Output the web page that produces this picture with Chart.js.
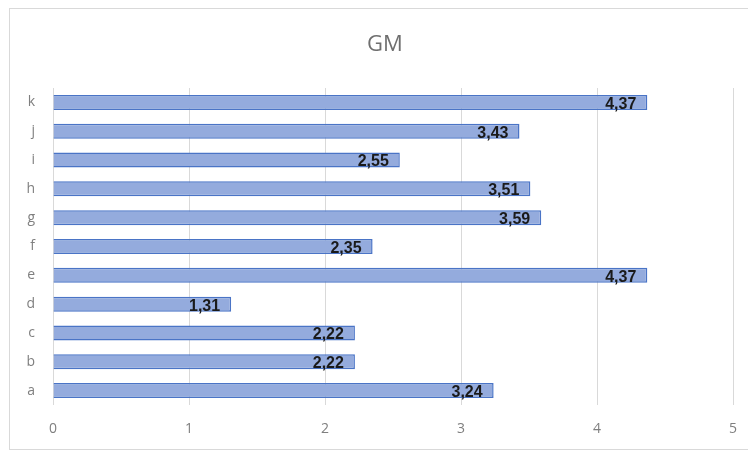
<!DOCTYPE html>
<html>
<head>
<meta charset="utf-8">
<script src="https://cdn.jsdelivr.net/npm/chart.js@4.4.0/dist/chart.umd.min.js"></script>
<style>
  html, body { margin: 0; padding: 0; background: #fff; overflow: hidden; }
  #frame { position: absolute; left: 9px; top: 8px; width: 739px; height: 442px; border: 1px solid #d9d9d9; border-right: none; box-sizing: border-box; }
  #wrap { position: absolute; left: 0; top: 0; width: 748px; height: 452px; }
</style>
</head>
<body>
<div id="frame"></div>
<div id="wrap"><canvas id="gmChart"></canvas></div>
<script>
// categories bottom -> top, as in the picture
const categories = ['a', 'b', 'c', 'd', 'e', 'f', 'g', 'h', 'i', 'j', 'k'];
const gmValues = [3.24, 2.22, 2.22, 1.31, 4.37, 2.35, 3.59, 3.51, 2.55, 3.43, 4.37];
const xTicks = [0, 1, 2, 3, 4, 5];
const chartTitle = 'GM';

// title centred over the whole frame, and bold value labels at the end of each bar
const barLabels = {
    id: 'barLabels',
    afterDraw(chart) {
        const ctx = chart.ctx;
        ctx.save();
        ctx.font = '22px "Open Sans", sans-serif';
        ctx.fillStyle = '#6f6f6f';
        ctx.textAlign = 'center';
        ctx.textBaseline = 'middle';
        ctx.fillText(chartTitle, 385, 45);
        ctx.restore();
    },
    afterDatasetsDraw(chart) {
        const ctx = chart.ctx;
        const meta = chart.getDatasetMeta(0);
        ctx.save();
        ctx.font = 'bold 16px "Liberation Sans", sans-serif';
        ctx.fillStyle = '#1a1a1a';
        ctx.textAlign = 'right';
        ctx.textBaseline = 'middle';
        meta.data.forEach(function (bar, i) {
            const txt = gmValues[i].toFixed(2).replace('.', ',');
            ctx.fillText(txt, bar.x - 11, bar.y + 2);
        });
        ctx.restore();
    }
};

new Chart(document.getElementById('gmChart'), {
    type: 'bar',
    data: {
        labels: categories,
        datasets: [{
            label: 'GM',
            data: gmValues,
            backgroundColor: '#94abdd',
            borderColor: '#4a74c6',
            borderWidth: 1.5,
            categoryPercentage: 1,
            barPercentage: 0.52
        }]
    },
    options: {
        indexAxis: 'y',
        responsive: true,
        maintainAspectRatio: false,
        animation: false,
        layout: { padding: { left: 0, right: 15, top: 88, bottom: 0 } },
        scales: {
            x: {
                min: 0,
                max: 5,
                afterBuildTicks: function (axis) {
                    axis.ticks = xTicks.map(v => ({ value: v }));
                },
                afterFit: function (axis) {
                    axis.height = 47;
                    axis.paddingLeft = 0;
                    axis.paddingRight = 0;
                },
                grid: { color: '#d9d9d9', drawTicks: false },
                border: { display: false },
                ticks: {
                    color: '#7f7f7f',
                    font: { family: 'Open Sans', size: 14 },
                    padding: 16
                }
            },
            y: {
                reverse: true,
                afterFit: function (axis) {
                    axis.width = 53;
                    axis.paddingTop = 0;
                    axis.paddingBottom = 0;
                },
                grid: { display: false },
                border: { display: false },
                ticks: {
                    color: '#7f7f7f',
                    font: { family: 'Open Sans', size: 14 },
                    padding: 10
                }
            }
        },
        plugins: {
            legend: { display: false },
            tooltip: { enabled: false },
            title: { display: false }
        }
    },
    plugins: [barLabels]
});
</script>
</body>
</html>
